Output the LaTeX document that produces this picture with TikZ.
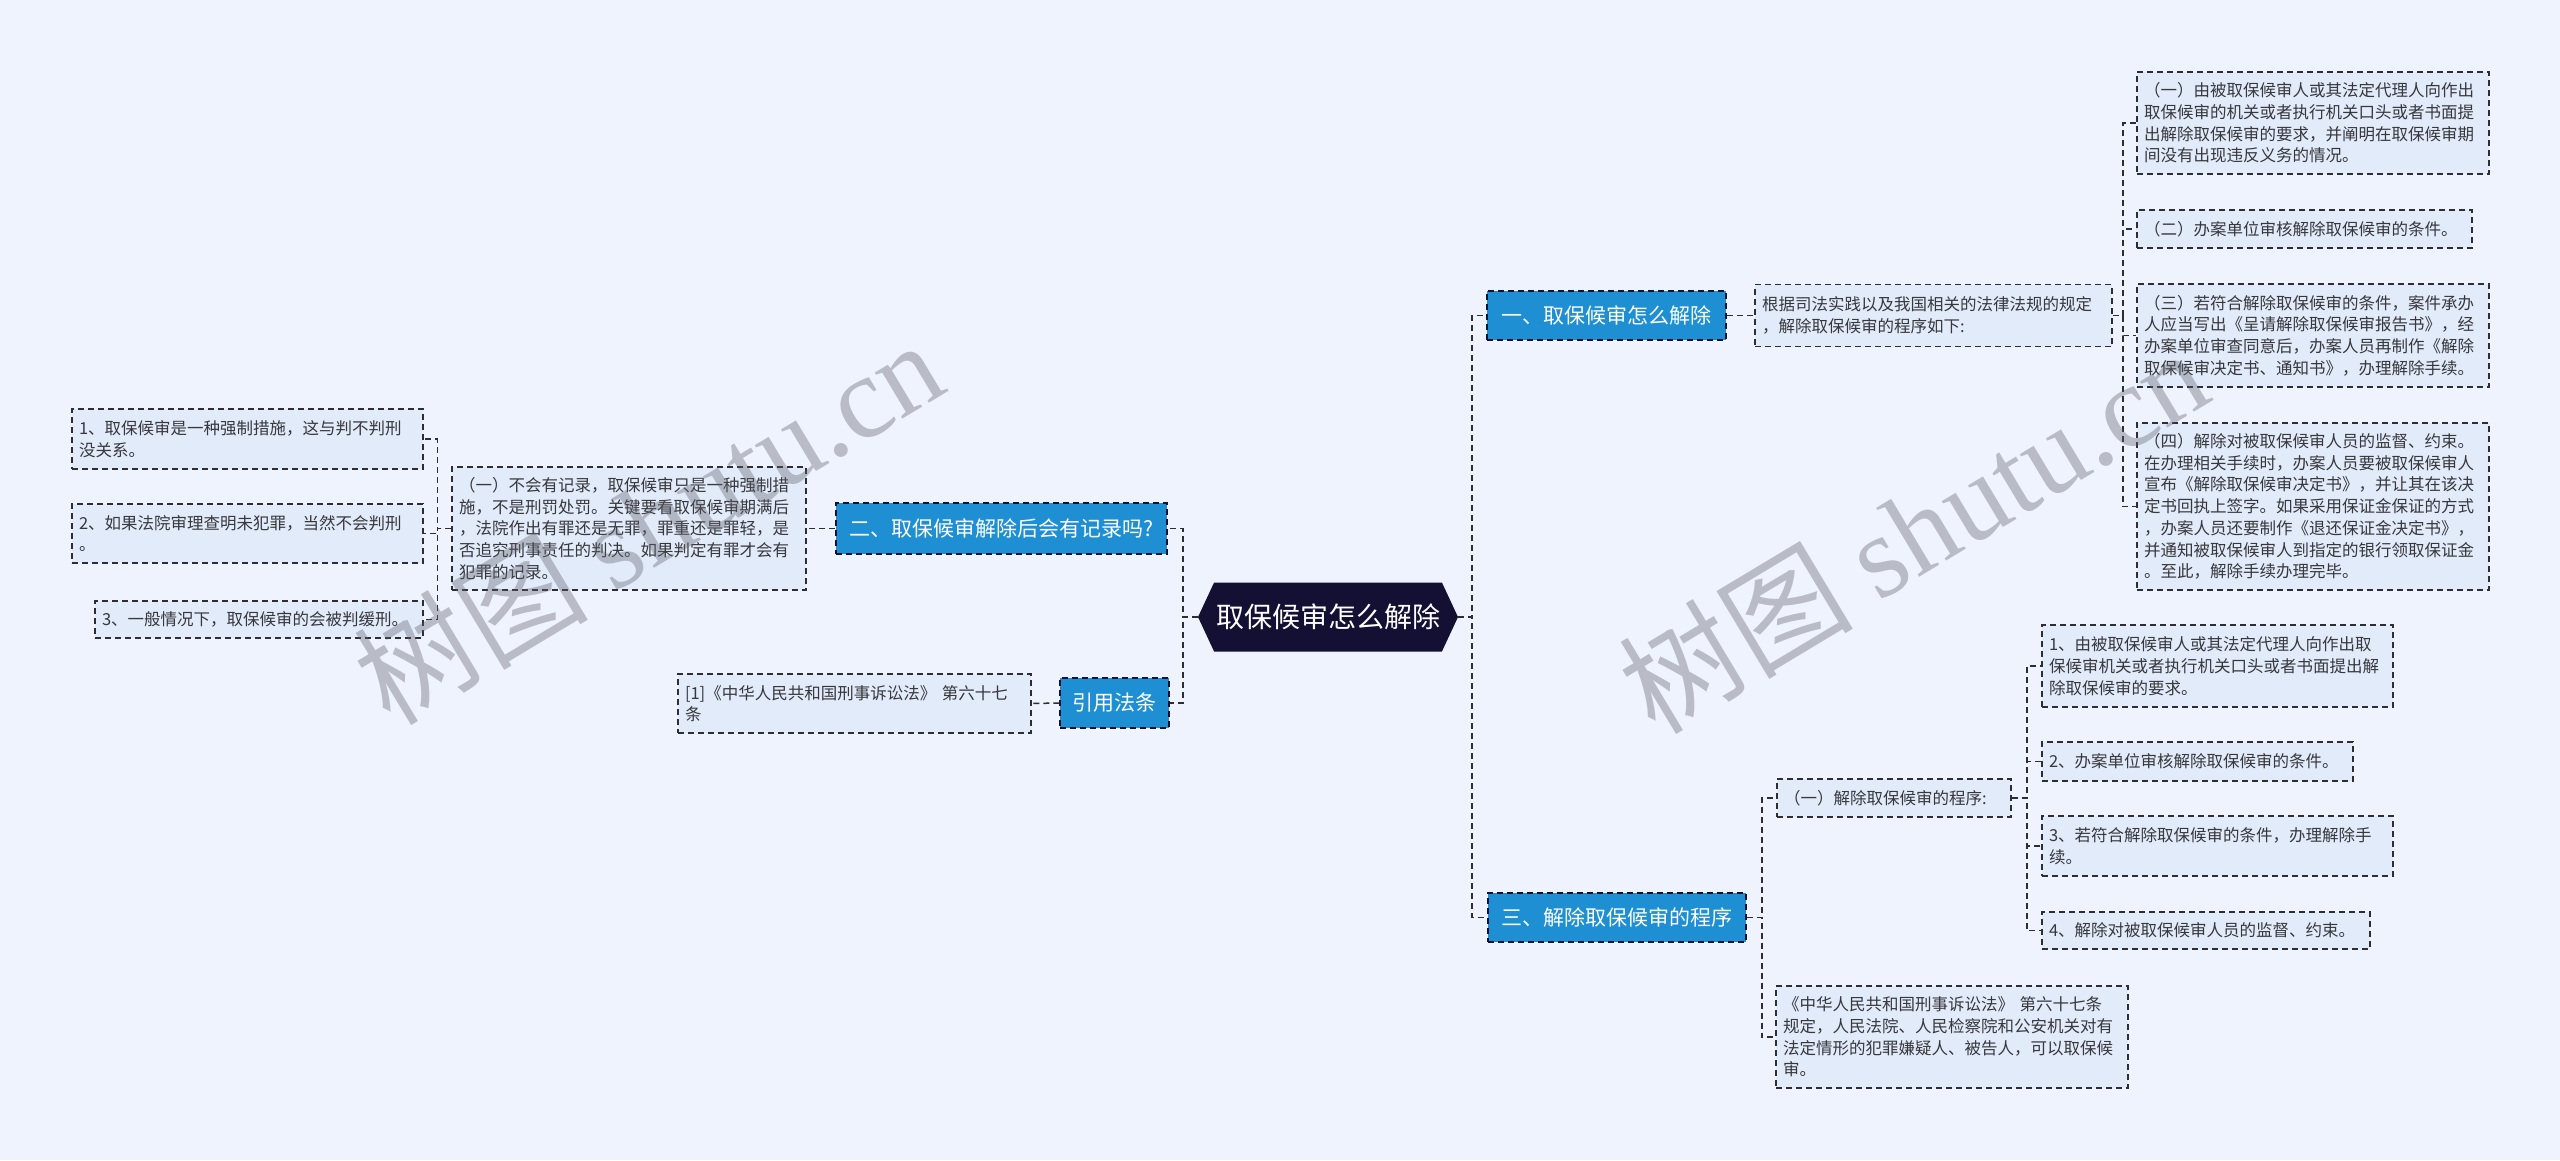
\documentclass[tikz,border=0pt]{standalone}
\usepackage{fontspec}
\setmainfont{Noto Sans CJK SC}
\newfontfamily\wmlatin{Liberation Serif}
\usetikzlibrary{shapes.symbols}
\definecolor{bgc}{RGB}{238,243,253}
\definecolor{leaffill}{RGB}{226,235,250}
\definecolor{edgec}{RGB}{45,45,50}
\definecolor{bluebox}{RGB}{29,143,210}
\definecolor{rootc}{RGB}{20,16,52}
\definecolor{textc}{RGB}{55,55,60}
\definecolor{wmc}{RGB}{95,95,105}
\newcommand\leaffont{\fontsize{16.5}{21.7}\selectfont}
\newcommand\branchfont{\fontsize{21}{25}\selectfont}
\newcommand\rootfont{\fontsize{28}{32}\selectfont}
\tikzset{
  conn/.style={draw=edgec, line width=1.5pt, dash pattern=on 6pt off 4pt},
  leafbox/.style={draw=edgec, line width=1.5pt, dash pattern=on 6pt off 4pt,
    fill=leaffill, text=textc, align=left, inner xsep=7pt, inner ysep=0pt,
    font=\leaffont},
  branchbox/.style={draw=rootc, line width=1.5pt, dash pattern=on 6pt off 4pt,
    fill=bluebox, text=white, inner sep=0pt, font=\branchfont, minimum height=49pt},
  rootbox/.style={signal, signal to=west and east, signal pointer angle=130,
    fill=rootc, text=white, font=\rootfont, inner sep=0pt,
    minimum width=260pt, minimum height=69pt},
  wmark/.style={text=wmc, opacity=0.37, rotate=31,
    font=\fontsize{117}{117}\selectfont}
}
\begin{document}
\begin{tikzpicture}[x=1pt,y=-1pt]
\useasboundingbox (0,0) rectangle (2560,1160);
\fill[bgc] (0,0) rectangle (2560,1160);

% root
\node[rootbox] (root) at (1328,617) {取保候审怎么解除};

% branches
\node[branchbox, minimum width=239pt] (b1) at (1606.5,315.5) {一、取保候审怎么解除};
\node[branchbox, minimum width=331pt, minimum height=51pt] (b2) at (1001.5,528.5) {二、取保候审解除后会有记录吗?};
\node[branchbox, minimum width=109pt, minimum height=50pt] (b4) at (1114.5,703) {引用法条};
\node[branchbox, minimum width=258pt] (b3) at (1617,917.5) {三、解除取保候审的程序};

% branch 1 content
\node[leafbox, text width=343pt, minimum height=62pt] (n1) at (1933.5,315.5)
  {根据司法实践以及我国相关的法律法规的规定\\，解除取保候审的程序如下:};
\node[leafbox, text width=338pt, minimum height=102pt] (r1) at (2313,123)
  {（一）由被取保候审人或其法定代理人向作出\\取保候审的机关或者执行机关口头或者书面提\\出解除取保候审的要求，并阐明在取保候审期\\间没有出现违反义务的情况。};
\node[leafbox, text width=321pt, minimum height=38pt] (r2) at (2304.5,229)
  {（二）办案单位审核解除取保候审的条件。};
\node[leafbox, text width=338pt, minimum height=103pt] (r3) at (2313,335.5)
  {（三）若符合解除取保候审的条件，案件承办\\人应当写出《呈请解除取保候审报告书》，经\\办案单位审查同意后，办案人员再制作《解除\\取保候审决定书、通知书》，办理解除手续。};
\node[leafbox, text width=338pt, minimum height=167pt] (r4) at (2313,506.5)
  {（四）解除对被取保候审人员的监督、约束。\\在办理相关手续时，办案人员要被取保候审人\\宣布《解除取保候审决定书》，并让其在该决\\定书回执上签字。如果采用保证金保证的方式\\，办案人员还要制作《退还保证金决定书》，\\并通知被取保候审人到指定的银行领取保证金\\。至此，解除手续办理完毕。};

% branch 3 content
\node[leafbox, text width=220pt, minimum height=38pt] (s0) at (1894,798)
  {（一）解除取保候审的程序:};
\node[leafbox, text width=337pt, minimum height=82pt] (s1) at (2217.5,666)
  {1、由被取保候审人或其法定代理人向作出取\\保候审机关或者执行机关口头或者书面提出解\\除取保候审的要求。};
\node[leafbox, text width=297pt, minimum height=39pt] (s2) at (2197.5,761.5)
  {2、办案单位审核解除取保候审的条件。};
\node[leafbox, text width=337pt, minimum height=60pt] (s3) at (2217.5,846)
  {3、若符合解除取保候审的条件，办理解除手\\续。};
\node[leafbox, text width=314pt, minimum height=37pt] (s4) at (2206,930.5)
  {4、解除对被取保候审人员的监督、约束。};
\node[leafbox, text width=338pt, minimum height=102pt] (s5) at (1952,1037)
  {《中华人民共和国刑事诉讼法》 第六十七条\\规定，人民法院、人民检察院和公安机关对有\\法定情形的犯罪嫌疑人、被告人，可以取保候\\审。};

% branch 2 content
\node[leafbox, text width=340pt, minimum height=123pt] (c0) at (629,528.5)
  {（一）不会有记录，取保候审只是一种强制措\\施，不是刑罚处罚。关键要看取保候审期满后\\，法院作出有罪还是无罪，罪重还是罪轻，是\\否追究刑事责任的判决。如果判定有罪才会有\\犯罪的记录。};
\node[leafbox, text width=337pt, minimum height=60pt] (l1) at (247.5,439)
  {1、取保候审是一种强制措施，这与判不判刑\\没关系。};
\node[leafbox, text width=337pt, minimum height=59pt] (l2) at (247.5,533.5)
  {2、如果法院审理查明未犯罪，当然不会判刑\\。};
\node[leafbox, text width=314pt, minimum height=37pt] (l3) at (259,619.5)
  {3、一般情况下，取保候审的会被判缓刑。};

% citation
\node[leafbox, text width=339pt, minimum height=59pt] (cite) at (854.5,703.5)
  {[1]《中华人民共和国刑事诉讼法》 第六十七\\条};

% connectors
\draw[conn] (root.east) -- ++(14,0) |- (b1.west);
\draw[conn] (root.east) -- ++(14,0) |- (b3.west);
\draw[conn] (root.west) -- ++(-15,0) |- (b2.east);
\draw[conn] (root.west) -- ++(-15,0) |- (b4.east);
\draw[conn] (b1.east) -- (n1.west);
\foreach \t in {r1,r2,r3,r4}{\draw[conn] (n1.east) -- ++(10,0) |- (\t.west);}
\foreach \t in {s0,s5}{\draw[conn] (b3.east) -- ++(15,0) |- (\t.west);}
\foreach \t in {s1,s2,s3,s4}{\draw[conn] (s0.east) -- ++(15,0) |- (\t.west);}
\draw[conn] (b2.west) -- (c0.east);
\foreach \t in {l1,l2,l3}{\draw[conn] (c0.west) -- ++(-14,0) |- (\t.east);}
\draw[conn] (b4.west) -- (cite.east);

% watermarks
\node[wmark] (wm1) at (648,521) {树图 {\wmlatin shutu.cn}};
\node[wmark] (wm2) at (1913,530) {树图 {\wmlatin shutu.cn}};
\end{tikzpicture}
\end{document}
